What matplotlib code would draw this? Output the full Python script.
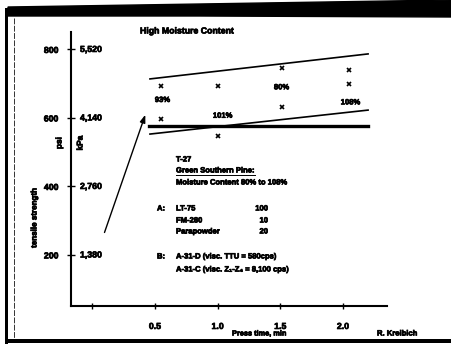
import matplotlib
matplotlib.use("Agg")
import matplotlib.pyplot as plt
import matplotlib.patheffects as pe
from matplotlib.lines import Line2D
from matplotlib.patches import Polygon, Rectangle

plt.rcParams['font.family'] = ['Liberation Sans', 'DejaVu Sans']
plt.rcParams['font.weight'] = 'bold'

# ---- data ----
psi_ticks = [200, 400, 600, 800]
kpa_labels = ["1,380", "2,760", "4,140", "5,520"]
x_ticks = [0.0, 0.5, 1.0, 1.5, 2.0]
x_tick_labels = ["", "0.5", "1.0", "1.5", "2.0"]

pts_x = [0.55, 1.0, 0.55, 1.0, 1.51, 1.51, 2.05, 2.05]
pts_y = [693, 693, 597, 547, 746, 632, 740, 699]

upper_x = [0.46, 2.20]
upper_y = [714, 787]
lower_x = [0.46, 2.20]
lower_y = [553, 623]
flat_x = [0.45, 2.20]
flat_y = [577, 577]

pct_labels = ["93%", "101%", "80%", "108%"]
pct_x = [0.56, 1.04, 1.51, 2.06]
pct_y = [651, 605, 688, 644]

arrow_tail = (0.09, 258)
arrow_head = (0.43, 617)

W, H = 451, 347
fig = plt.figure(figsize=(W / 100, H / 100), dpi=100)
fig.patch.set_facecolor('white')
ax = fig.add_axes([71 / W, 1 - 306 / H, 316 / W, 274 / H])
ax.set_xlim(-0.17, 2.351)
ax.set_ylim(51, 851)
for s in ['top', 'right']:
    ax.spines[s].set_visible(False)
for s in ['left', 'bottom']:
    ax.spines[s].set_linewidth(1.5)

ax.set_yticks(psi_ticks)
ax.set_yticklabels([str(v) for v in psi_ticks], fontsize=6.3, fontweight='bold')
ax.set_xticks(x_ticks)
ax.set_xticklabels(x_tick_labels, fontsize=6.3, fontweight='bold')
ax.tick_params(axis='y', direction='inout', length=6, width=1.0, pad=6)
ax.tick_params(axis='x', direction='inout', length=5, width=1.0, pad=9)

STROKE = [pe.withStroke(linewidth=0.5, foreground='black')]

for v, lab in zip(psi_ticks, kpa_labels):
    ax.annotate(lab, xy=(0, v), xycoords=ax.get_yaxis_transform(),
                xytext=(9, 0), textcoords='offset pixels',
                ha='left', va='center', fontsize=6.3, fontweight='bold',
                path_effects=STROKE)
for lab in ax.get_xticklabels() + ax.get_yticklabels():
    lab.set_path_effects(STROKE)

ax.plot(upper_x, upper_y, color='black', lw=1.2)
ax.plot(lower_x, lower_y, color='black', lw=1.2)
ax.plot(flat_x, flat_y, color='black', lw=2.4)
ax.plot(pts_x, pts_y, linestyle='none', marker='x', color='black', ms=2.8, mew=1.2)
for t, x, y in zip(pct_labels, pct_x, pct_y):
    ax.text(x, y, t, ha='center', va='center', fontsize=5.5, fontweight='bold',
            path_effects=STROKE)

ax.annotate('', xy=arrow_head, xytext=arrow_tail,
            arrowprops=dict(arrowstyle='-|>,head_length=0.5,head_width=0.18',
                            lw=1.0, color='black', mutation_scale=9))


def ft(x, y, s, **kw):
    kw.setdefault('fontsize', 5.5)
    kw.setdefault('fontweight', 'bold')
    kw.setdefault('va', 'center')
    kw.setdefault('path_effects', STROKE)
    return fig.text(x / W, 1 - y / H, s, **kw)


ft(140, 31, "High Moisture Content", fontsize=6.3)
ft(60, 143, "psi", rotation=90, ha='center', fontsize=6)
ft(81, 143, "kPa", rotation=90, ha='center', fontsize=6)
ft(35, 218, "tensile strength", rotation=90, ha='center', fontsize=5.8)

ft(176, 160, "T-27")
gs = ft(176, 171, "Green Southern Pine:")
ft(176, 183, "Moisture Content 80% to 108%")
ft(157, 209, "A:")
ft(176, 209, "LT-75")
ft(176, 221, "FM-280")
ft(176, 232, "Parapowder")
ft(268, 209, "100", ha='right')
ft(268, 221, "10", ha='right')
ft(268, 232, "20", ha='right')
ft(157, 257, "B:")
ft(176, 257, "A-31-D (visc. TTU = 580cps)")
ft(176, 270, "A-31-C (visc. Z\u2081-Z\u2084 = 8,100 cps)")

ft(232, 334, "Press time, min", fontsize=5.3)
ft(377, 334, "R. Kreibich", fontsize=5.5)

fig.canvas.draw()
bb = gs.get_window_extent()
fig.add_artist(Line2D([bb.x0 / W, bb.x1 / W], [(bb.y0 - 0.5) / H] * 2,
                      transform=fig.transFigure, color='black', lw=0.7))


def fx(x):
    return x / W


def fy(y):
    return 1 - y / H


# scanned frame
fig.add_artist(Polygon([(fx(8), fy(7)), (fx(200), fy(4)), (fx(451), fy(0)),
                        (fx(451), fy(17)), (fx(200), fy(16)), (fx(8), fy(16))],
                       closed=True, transform=fig.transFigure, color='black', zorder=10))
fig.add_artist(Rectangle((fx(4.5), fy(344)), 3 / W, 336 / H, transform=fig.transFigure,
                         color='black', lw=0, zorder=10))
fig.add_artist(Line2D([fx(13.5), fx(13.5)], [fy(18), fy(339)], transform=fig.transFigure,
                      color='#333333', lw=0.7, linestyle=(0, (6, 1.5)), zorder=10))
fig.add_artist(Rectangle((fx(4.5), fy(343)), 446.5 / W, 4 / H, transform=fig.transFigure,
                         color='black', lw=0, zorder=10))

fig.savefig("out.png", dpi=100)
